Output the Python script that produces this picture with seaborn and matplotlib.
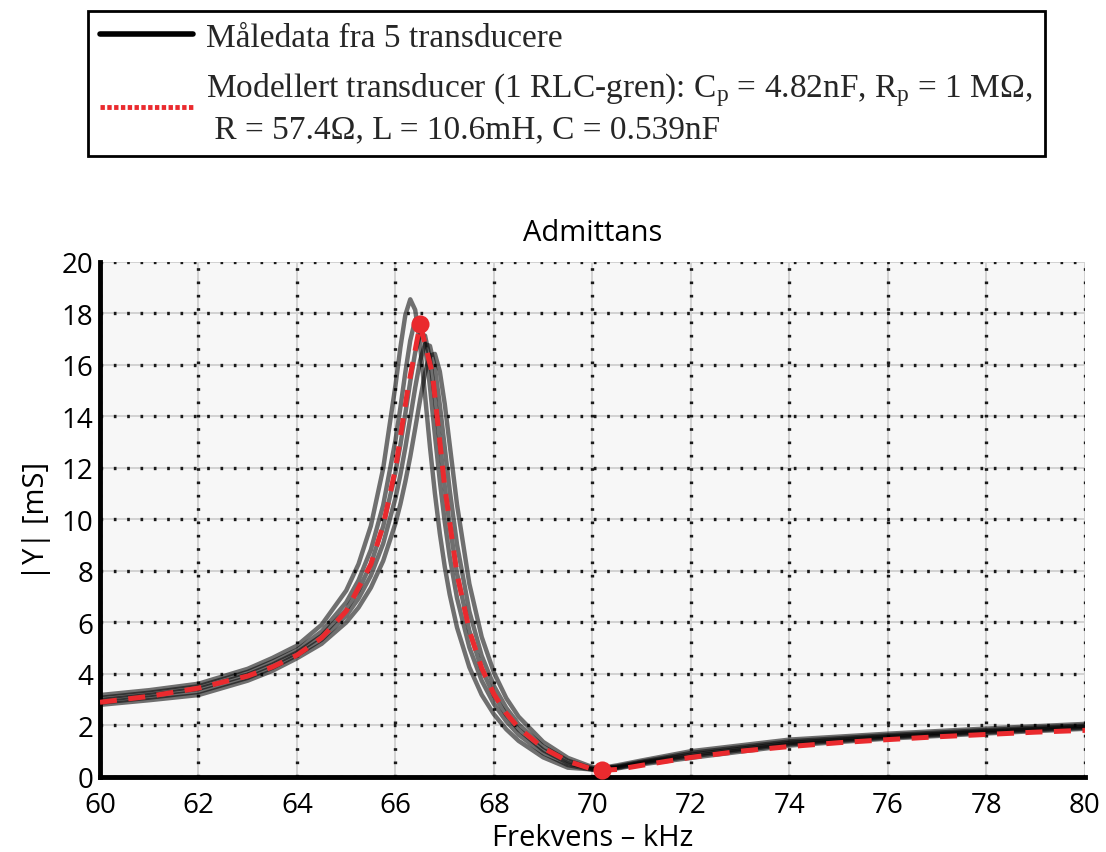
import matplotlib
matplotlib.use("Agg")
import matplotlib.pyplot as plt
from matplotlib.lines import Line2D
import pandas as pd
import seaborn as sns

# --- measured admittance magnitude |Y| [mS] for five transducers ---
meas_freq = [60, 61, 62, 63, 63.5, 64, 64.5, 65, 65.25, 65.5, 65.75, 66, 66.1, 66.2,
             66.3, 66.4, 66.5, 66.6, 66.7, 66.8, 66.9, 67, 67.1, 67.25, 67.5, 67.75,
             68, 68.25, 68.5, 69, 69.5, 70, 70.5, 71, 72, 74, 76, 78, 80]
meas_t1 = [3.18, 3.37, 3.62, 4.20, 4.62, 5.10, 5.91, 7.24, 8.27, 9.75, 11.98, 15.21, 16.68,
           17.94, 18.55, 18.14, 16.76, 14.82, 12.82, 11.02, 9.46, 8.17, 7.09, 5.80, 4.26,
           3.19, 2.43, 1.85, 1.40, 0.76, 0.36, 0.29, 0.45, 0.64, 1.00, 1.45, 1.68, 1.88, 2.06]
meas_t2 = [3.07, 3.27, 3.52, 4.08, 4.48, 4.93, 5.65, 6.78, 7.64, 8.82, 10.55, 13.08, 14.35,
           15.71, 16.95, 17.75, 17.73, 16.77, 15.15, 13.29, 11.49, 9.91, 8.56, 6.94, 5.03,
           3.74, 2.83, 2.16, 1.64, 0.92, 0.46, 0.28, 0.41, 0.59, 0.93, 1.38, 1.62, 1.82, 2.00]
meas_t3 = [2.98, 3.18, 3.42, 3.97, 4.36, 4.83, 5.48, 6.50, 7.25, 8.27, 9.73, 11.83, 12.90,
           14.11, 15.36, 16.49, 17.18, 17.14, 16.24, 14.74, 12.99, 11.30, 9.77, 7.90, 5.67,
           4.19, 3.16, 2.41, 1.84, 1.04, 0.54, 0.30, 0.38, 0.56, 0.86, 1.32, 1.57, 1.77, 1.95]
meas_t4 = [2.88, 3.08, 3.30, 3.85, 4.24, 4.73, 5.33, 6.26, 6.93, 7.82, 9.06, 10.83, 11.74,
           12.79, 13.94, 15.12, 16.17, 16.81, 16.74, 15.90, 14.46, 12.80, 11.15, 9.02, 6.43,
           4.71, 3.53, 2.68, 2.05, 1.18, 0.63, 0.33, 0.35, 0.53, 0.80, 1.27, 1.53, 1.73, 1.91]
meas_t5 = [2.80, 2.98, 3.18, 3.74, 4.12, 4.61, 5.17, 6.00, 6.58, 7.35, 8.39, 9.85, 10.60,
           11.47, 12.44, 13.53, 14.65, 15.68, 16.36, 16.43, 15.75, 14.49, 12.92, 10.57, 7.50,
           5.44, 4.05, 3.06, 2.34, 1.36, 0.74, 0.38, 0.33, 0.49, 0.74, 1.22, 1.49, 1.69, 1.87]

# --- modelled transducer (one RLC branch) ---
model_freq = [60, 61, 62, 63, 63.5, 64, 64.5, 65, 65.5, 65.75, 66, 66.25, 66.5, 66.75, 67,
              67.25, 67.5, 67.75, 68, 68.25, 68.5, 69, 69.5, 70, 70.2, 70.5, 71, 72, 73,
              74, 75, 76, 77, 78, 79, 80]
model_y = [2.90, 3.13, 3.45, 3.92, 4.27, 4.73, 5.40, 6.44, 8.26, 9.77, 11.98, 15.06, 17.59,
           15.66, 11.26, 7.87, 5.68, 4.23, 3.21, 2.47, 1.91, 1.12, 0.61, 0.30, 0.26, 0.29,
           0.45, 0.76, 1.00, 1.18, 1.33, 1.45, 1.56, 1.65, 1.74, 1.81]

# resonance / anti-resonance points of the model
extreme_freq = [66.5, 70.2]
extreme_y = [17.59, 0.26]

x_ticks = [60, 62, 64, 66, 68, 70, 72, 74, 76, 78, 80]
y_ticks = [0, 2, 4, 6, 8, 10, 12, 14, 16, 18, 20]

legend_labels = [
    "Måledata fra 5 transducere",
    "Modellert transducer (1 RLC-gren): C$_\\mathrm{p}$ = 4.82nF, R$_\\mathrm{p}$ = 1 MΩ,\n"
    " R = 57.4Ω, L = 10.6mH, C = 0.539nF",
]

RED = "#ea2a2e"

sns.set_theme(style="white")
plt.rcParams["font.family"] = ["Open Sans", "DejaVu Sans"]
plt.rcParams["mathtext.fontset"] = "custom"
plt.rcParams["mathtext.rm"] = "Liberation Serif"
plt.rcParams["mathtext.it"] = "Liberation Serif:italic"
plt.rcParams["mathtext.bf"] = "Liberation Serif:bold"

fig, ax = plt.subplots(figsize=(11.06, 8.53), dpi=100)
fig.patch.set_facecolor("white")
fig.subplots_adjust(left=0.0904, right=0.981, bottom=0.088, top=0.6917)
ax.set_facecolor("#f7f7f7")

meas = pd.concat([
    pd.DataFrame({"freq": meas_freq, "Y": vals, "unit": k})
    for k, vals in enumerate([meas_t1, meas_t2, meas_t3, meas_t4, meas_t5])
])

sns.lineplot(data=meas, x="freq", y="Y", units="unit", estimator=None,
             color="black", alpha=0.55, linewidth=3.2, ax=ax, legend=False, zorder=3)
sns.lineplot(x=model_freq, y=model_y, color=RED, linewidth=3.6,
             linestyle=(0, (3.4, 2.3)), ax=ax, legend=False, zorder=4)
sns.scatterplot(x=extreme_freq, y=extreme_y, color=RED, s=170, edgecolor=RED,
                linewidth=0, ax=ax, legend=False, zorder=6, clip_on=False)

ax.set_xlim(60, 80)
ax.set_ylim(0, 20)
ax.set_xticks(x_ticks)
ax.set_yticks(y_ticks)

# grid: faint solid lines with black dotted overlay
ax.set_axisbelow(True)
ax.hlines(y_ticks[1:], 60, 80, colors="#d2d2d2", linewidth=1.4, zorder=0.5)
ax.vlines(x_ticks[1:], 0, 20, colors="#d2d2d2", linewidth=1.4, zorder=0.5)
ax.grid(True, color="#1a1a1a", linewidth=2.4, linestyle=(0, (0.8, 3.2)), zorder=1)

for side in ("top", "right"):
    ax.spines[side].set_visible(False)
for side in ("left", "bottom"):
    ax.spines[side].set_linewidth(3.5)
    ax.spines[side].set_color("black")

ax.tick_params(axis="both", direction="in", length=7, width=3.5, color="black",
               labelsize=20, labelcolor="black")
ax.tick_params(axis="x", pad=10)
ax.tick_params(axis="y", pad=5)

ax.set_xlabel("Frekvens – kHz", fontsize=21, labelpad=3, color="black")
ax.set_ylabel("|Y| [mS]", fontsize=21, labelpad=7, color="black")
ax.set_title("Admittans", fontsize=21, pad=16, color="black")

handles = [
    Line2D([], [], color="black", linewidth=4),
    Line2D([], [], color=RED, linewidth=3.5, linestyle=(0, (0.9, 0.5))),
]
leg = fig.legend(handles, legend_labels, loc="upper center",
                 bbox_to_anchor=(0.512, 0.986),
                 prop={"family": "Liberation Serif", "size": 24},
                 frameon=True, fancybox=False, shadow=False, framealpha=1,
                 edgecolor="black", handlelength=2.8, handletextpad=0.4,
                 labelspacing=0.5, borderpad=0.35, borderaxespad=0)
leg.get_frame().set_linewidth(2)
for t in leg.get_texts():
    t.set_linespacing(1.25)

fig.savefig("out.png", dpi=100)
